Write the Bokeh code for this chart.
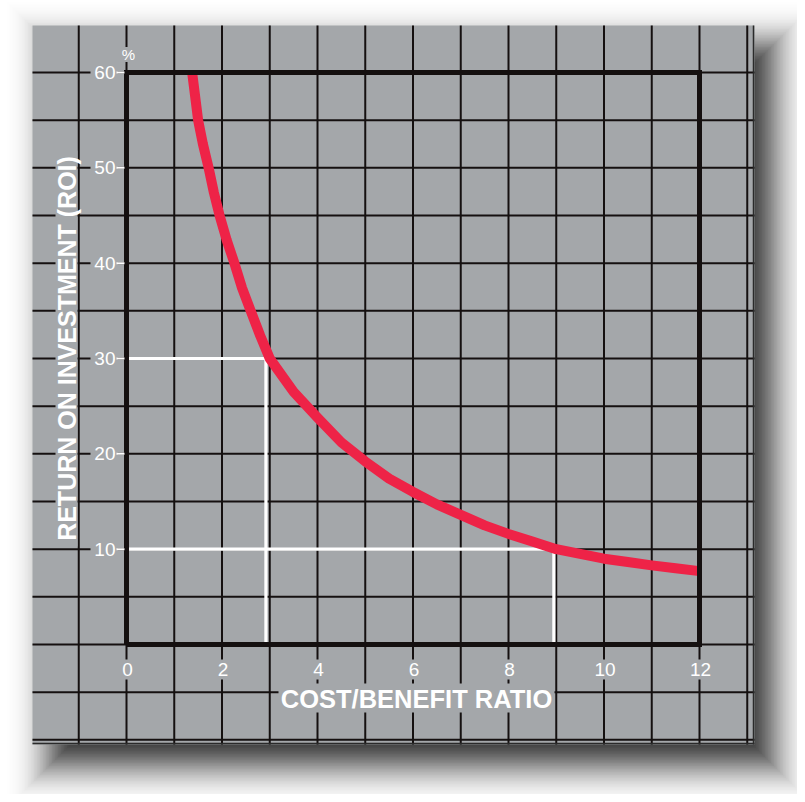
import math
import numpy as np
from bokeh.plotting import figure
from bokeh.models import Range1d, ColumnDataSource
from bokeh.core.properties import value
from bokeh.embed import file_html
from bokeh.resources import INLINE

# ---- data ----
cost_ratio = [1.375, 1.45, 1.5, 1.6, 1.72, 1.83, 1.95, 2.1, 2.26, 2.42, 2.6, 2.8, 3.0,
              3.5, 4, 4.5, 5, 5.5, 6, 6.5, 7, 7.5, 8, 8.5, 9, 9.5, 10, 10.5, 11, 11.5, 12]
roi = [60, 57, 55, 52.5, 50, 47.4, 45, 42.4, 40, 37.4, 35, 32.4, 30,
       26.5, 23.8, 21.2, 19.2, 17.4, 16.0, 14.7, 13.6, 12.5, 11.6, 10.8, 10.0, 9.5, 9.0, 8.65, 8.3, 8.0, 7.7]
x_ticks = [0, 2, 4, 6, 8, 10, 12]
y_ticks = [10, 20, 30, 40, 50, 60]
guide_cost = [2.92, 8.95]
guide_roi = [30, 10]

X_TITLE = "COST/BENEFIT RATIO"
Y_TITLE = "RETURN ON INVESTMENT (ROI)"

# ---- layout constants (pixel scale of the chart) ----
PXX = 47.75   # px per x unit
PXY = 9.533   # px per y unit
X0PX, Y0PX = 126.0, 644.0  # screen px of the origin
W, H = 797, 794

def sx(px):
    return (px - X0PX) / PXX

def sy(py):
    return (Y0PX - py) / PXY

XMIN, XMAX = sx(0), sx(W)
YMIN, YMAX = sy(H), sy(0)

CARD = "#a4a7aa"
INK = "#151010"
RED = "#ee2347"
FONT = value("Liberation Sans")

p = figure(width=W, height=H, x_range=Range1d(XMIN, XMAX), y_range=Range1d(YMIN, YMAX),
           output_backend="svg", toolbar_location=None, min_border=0,
           x_axis_type=None, y_axis_type=None, outline_line_color=None,
           background_fill_color="white", border_fill_color="white")
p.grid.visible = False

# card bounds (px)
CL, CR, CT, CB = 32, 754, 25, 744
cl, cr, ct, cb = sx(CL), sx(CR), sy(CT), sy(CB)

# soft drop shadow: stacked translucent rectangles approximating a gaussian blur
SIG, OX, OY, DARK = 20.0, 18, 20, 0.85
exps = np.arange(3 * SIG, -3 * SIG - 0.01, -1.5)
def target(d):
    return DARK * 0.5 * math.erfc(d / (SIG * math.sqrt(2)))
alphas, prev = [], 0.0
for e in exps:
    t = target(e)
    alphas.append(1 - (1 - t) / (1 - prev))
    prev = t
shadow = ColumnDataSource(dict(
    left=[sx(CL + OX - e) for e in exps], right=[sx(CR + OX + e) for e in exps],
    top=[sy(CT + OY - e) for e in exps], bottom=[sy(CB + OY + e) for e in exps],
    alpha=alphas))
p.quad(left="left", right="right", top="top", bottom="bottom", source=shadow,
       fill_color="black", fill_alpha="alpha", line_color=None)

# card
p.quad(left=cl, right=cr, top=ct, bottom=cb, fill_color=CARD, line_color=None)

# grid
gx = np.arange(-1, 14)
p.segment(x0=gx, x1=gx, y0=cb, y1=ct, line_color=INK, line_width=2)
gy = np.arange(-10, 65, 5)
p.segment(x0=cl, x1=cr, y0=gy, y1=gy, line_color=INK, line_width=2)
# card edge lines
p.line(x=[sx(753), sx(753)], y=[cb, ct], line_color="#2a2a2a", line_width=1.5)
p.line(x=[cl, cr], y=[sy(743), sy(743)], line_color="#2a2a2a", line_width=1.5)

# white guide lines
for gc, gr in zip(guide_cost, guide_roi):
    p.line(x=[0, gc, gc], y=[gr, gr, 0], line_color="white", line_width=3.2)

# curve
p.line(x=cost_ratio, y=roi, line_color=RED, line_width=10, line_join="round", line_cap="butt")

# frame
xmax_t, ymax_t = x_ticks[-1], y_ticks[-1]
p.line(x=[0, 0, xmax_t, xmax_t, 0], y=[0, ymax_t, ymax_t, 0, 0], line_color=INK, line_width=5,
       line_join="miter")


# knock-out panels behind the printed texts (card colour hides the grid lines)
def knock(xc, yc, wpx, hpx):
    """xc, yc in data units; sizes in px"""
    p.quad(left=[x - wpx / 2 / PXX for x in xc], right=[x + wpx / 2 / PXX for x in xc],
           bottom=[y - hpx / 2 / PXY for y in yc], top=[y + hpx / 2 / PXY for y in yc],
           fill_color=CARD, line_color=None)


ylab_x = sx(115)
xlab_y = sy(669)
knock([ylab_x - 11.5 / PXX] * len(y_ticks), y_ticks, 27, 18)
knock([v + sx(127) for v in x_ticks], [xlab_y] * len(x_ticks), 26, 20)
knock([sx(128)], [sy(54)], 15, 15)
knock([sx(416)], [sy(697.5)], 276, 29)
knock([sx(66)], [sy(348)], 22, 396)

# y ticks
p.segment(x0=sx(116), x1=sx(124), y0=y_ticks, y1=y_ticks, line_color="white", line_width=2)

common = dict(text_color="white", text_font=FONT, text_baseline="middle")
p.text(x=[ylab_x] * len(y_ticks), y=y_ticks, text=[str(v) for v in y_ticks],
       text_align="right", text_font_size="19px", **common)
p.text(x=[v + sx(127) for v in x_ticks], y=[xlab_y] * len(x_ticks), text=[str(v) for v in x_ticks],
       text_align="center", text_font_size="19px", **common)
p.text(x=[sx(128)], y=[sy(54)], text=["%"], text_align="center", text_font_size="15px", **common)
p.text(x=[sx(416)], y=[sy(698)], text=[X_TITLE], text_align="center", text_font_style="bold",
       text_font_size="25.5px", **common)
p.text(x=[sx(66)], y=[sy(348)], text=[Y_TITLE], angle=np.pi / 2, text_align="center",
       text_font_style="bold", text_font_size="25px", **common)

open("out.html", "w").write(file_html(p, INLINE))
